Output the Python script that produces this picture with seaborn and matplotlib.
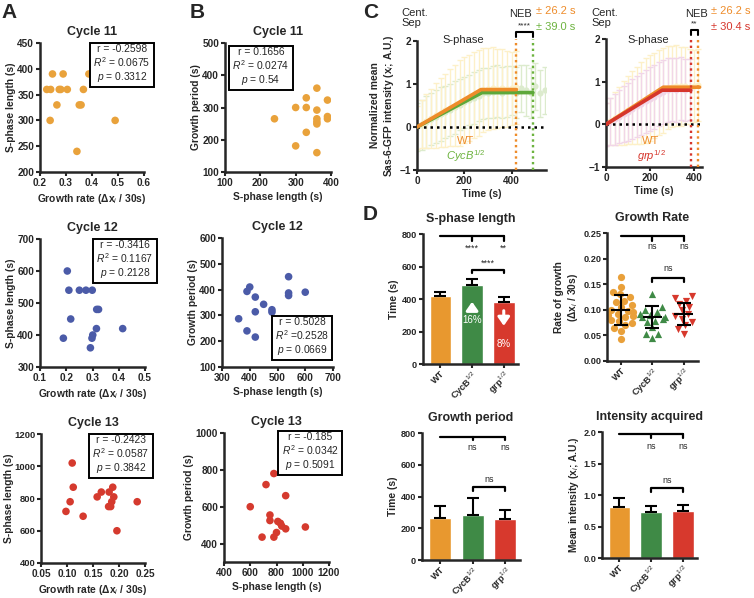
import matplotlib
matplotlib.use("Agg")
import matplotlib.pyplot as plt
import seaborn as sns
import numpy as np

sns.set_style("ticks")
plt.rcParams['font.family'] = ['Liberation Sans', 'DejaVu Sans']
plt.rcParams['mathtext.fontset'] = 'custom'
plt.rcParams['mathtext.rm'] = 'Liberation Sans'
plt.rcParams['mathtext.it'] = 'Liberation Sans:italic'
plt.rcParams['mathtext.bf'] = 'Liberation Sans:bold'
plt.rcParams['axes.labelweight'] = 'bold'

W, H = 754, 598

# ---------------- data ----------------
# A: growth rate vs S-phase length
c11_rate = [0.248, 0.289, 0.388, 0.226, 0.241, 0.274, 0.280, 0.305, 0.367, 0.265, 0.351, 0.358, 0.239, 0.489, 0.342]
c11_sphase = [390, 390, 390, 360, 360, 360, 360, 360, 360, 330, 330, 330, 300, 300, 240]
c12_rate = [0.204, 0.210, 0.250, 0.275, 0.299, 0.316, 0.323, 0.217, 0.315, 0.415, 0.301, 0.298, 0.189, 0.292]
c12_sphase = [600, 540, 540, 540, 540, 480, 480, 450, 420, 420, 400, 390, 390, 360]
c13_rate = [0.110, 0.112, 0.188, 0.166, 0.181, 0.158, 0.190, 0.106, 0.235, 0.186, 0.180, 0.184, 0.098, 0.131, 0.196]
c13_sphase = [1020, 870, 870, 840, 840, 810, 810, 780, 780, 780, 750, 750, 720, 690, 600]

# B: S-phase length vs growth period
b11_sphase = [360, 330, 390, 300, 330, 360, 240, 360, 360, 360, 390, 390, 330, 300, 360]
b11_growth = [360, 330, 323, 300, 300, 292, 265, 265, 256, 249, 272, 265, 223, 181, 160]
b12_sphase = [540, 540, 540, 600, 400, 390, 420, 450, 480, 480, 360, 420, 390, 420]
b12_growth = [450, 387, 377, 390, 410, 393, 371, 343, 322, 313, 287, 314, 240, 216]
b13_sphase = [780, 720, 870, 600, 750, 750, 810, 830, 840, 870, 1020, 800, 690, 780]
b13_growth = [780, 720, 660, 600, 555, 525, 520, 510, 495, 480, 490, 460, 435, 435]

stats_a = ["r = -0.2598\n$R^2$ = 0.0675\n$p$ = 0.3312",
           "r = -0.3416\n$R^2$ = 0.1167\n$p$ = 0.2128",
           "r = -0.2423\n$R^2$ = 0.0587\n$p$ = 0.3842"]
stats_b = ["r = 0.1656\n$R^2$ = 0.0274\n$p$ = 0.54",
           "r = 0.5028\n$R^2$ =0.2528\n$p$ = 0.0669",
           "r = -0.185\n$R^2$ = 0.0342\n$p$ = 0.5091"]

# C: normalised Sas-6-GFP intensity over time
wt_t = [0, 20, 40, 60, 80, 100, 120, 140, 160, 180, 200, 220, 240, 260, 280, 300, 320, 340, 360, 380, 400, 420]
wt_mean = [0.00, 0.07, 0.14, 0.20, 0.27, 0.33, 0.39, 0.45, 0.50, 0.56, 0.62, 0.68, 0.74, 0.80, 0.86, 0.88,
           0.90, 0.89, 0.91, 0.88, 0.90, 0.92]
wt_sd = [0.50, 0.55, 0.62, 0.68, 0.75, 0.80, 0.85, 0.90, 0.95, 1.00, 1.00, 1.00, 1.00, 1.00, 0.98, 0.95,
         0.95, 0.92, 0.90, 0.88, 0.85, 0.85]
cyc_t = [0, 20, 40, 60, 80, 100, 120, 140, 160, 180, 200, 220, 240, 260, 280, 300, 320, 340, 360, 380,
         400, 420, 440, 460, 480, 500, 520, 540]
cyc_mean = [0.00, 0.05, 0.12, 0.18, 0.24, 0.30, 0.35, 0.40, 0.46, 0.52, 0.57, 0.62, 0.68, 0.73, 0.78, 0.80,
            0.82, 0.84, 0.80, 0.83, 0.85, 0.80, 0.90, 0.85, 0.80, 0.95, 0.78, 0.85]
cyc_sd = [0.55, 0.58, 0.60, 0.60, 0.62, 0.62, 0.60, 0.60, 0.62, 0.60, 0.60, 0.58, 0.60, 0.60, 0.60, 0.58,
          0.60, 0.60, 0.60, 0.60, 0.58, 0.60, 0.55, 0.60, 0.58, 0.55, 0.55, 0.55]
grp_t = [0, 20, 40, 60, 80, 100, 120, 140, 160, 180, 200, 220, 240, 260, 280, 300, 320, 340, 360, 380]
grp_mean = [0.00, 0.06, 0.12, 0.18, 0.24, 0.30, 0.36, 0.42, 0.48, 0.54, 0.60, 0.65, 0.70, 0.75, 0.80, 0.82,
            0.80, 0.83, 0.80, 0.82]
grp_sd = [0.50, 0.55, 0.60, 0.62, 0.65, 0.68, 0.70, 0.72, 0.72, 0.74, 0.75, 0.75, 0.75, 0.75, 0.75, 0.74,
          0.75, 0.74, 0.72, 0.72]
fit_wt_l = ([0, 270, 420], [0, 0.87, 0.87])
fit_cyc = ([0, 275, 490], [0, 0.80, 0.80])
fit_wt_r = ([0, 260, 425], [0, 0.87, 0.87])
fit_grp = ([0, 255, 385], [0, 0.80, 0.80])
neb_wt, neb_cyc, neb_grp = 420, 490, 385

# D: bar / scatter summaries
groups = ["WT", "CycB$^{1/2}$", "grp$^{1/2}$"]
sphase_mean = [418, 485, 383]
sphase_sd = [27, 40, 30]
period_mean = [264, 281, 256]
period_sd = [79, 110, 62]
intens_mean = [0.805, 0.727, 0.743]
intens_sd = [0.15, 0.10, 0.10]
rate_wt = [0.165, 0.145, 0.135, 0.130, 0.125, 0.118, 0.115, 0.110, 0.105, 0.100, 0.098, 0.095, 0.092,
           0.090, 0.088, 0.085, 0.080, 0.078, 0.075, 0.070, 0.065, 0.058, 0.042]
rate_cyc = [0.131, 0.105, 0.100, 0.096, 0.091, 0.089, 0.086, 0.086, 0.083, 0.079, 0.076, 0.066, 0.053,
            0.052, 0.044]
rate_grp = [0.126, 0.124, 0.118, 0.112, 0.105, 0.099, 0.091, 0.087, 0.083, 0.076, 0.070, 0.063, 0.053]
rate_mean = [0.099, 0.0855, 0.092]
rate_sd = [0.029, 0.021, 0.021]

ORANGE = '#E9A23B'
BLUE = '#4B5BA8'
RED = '#D53A2E'
BAR_COLORS = ['#E8982F', '#3F8A46', '#D7392D']
LIGHT_WT = '#FDF0C8'
LIGHT_CYC = '#DCEBCD'
LIGHT_GRP = '#F1D6E8'
C_GREEN = '#6DB33F'

fig = plt.figure(figsize=(W / 100, H / 100), dpi=100)


def add_ax(l, t, r, b):
    return fig.add_axes([l / W, 1 - b / H, (r - l) / W, (b - t) / H])


def ftext(x, y, s, **kw):
    fig.text(x / W, 1 - y / H, s, **kw)


def style(ax, size=7.2):
    sns.despine(ax=ax)
    for s in ['left', 'bottom']:
        ax.spines[s].set_linewidth(1.8)
    ax.tick_params(width=1.5, length=3, labelsize=size, pad=1.2)
    for lab in ax.get_xticklabels() + ax.get_yticklabels():
        lab.set_fontweight('bold')


def scatter_panel(rect, xs, ys, color, title, xlabel, ylabel, xlim, xticks, ylim, yticks, stats, box_xy, xfmt=None):
    ax = add_ax(*rect)
    sns.scatterplot(x=xs, y=ys, color=color, s=30, edgecolor='none', ax=ax)
    ax.set_xlim(*xlim)
    ax.set_ylim(*ylim)
    ax.set_xticks(xticks)
    ax.set_yticks(yticks)
    if xfmt:
        ax.set_xticklabels([xfmt.format(v) for v in xticks])
    ax.set_title(title, fontsize=9, fontweight='bold', pad=6)
    ax.set_xlabel(xlabel, fontsize=7.4, labelpad=3)
    ax.set_ylabel(ylabel, fontsize=7.4, labelpad=1)
    style(ax)
    ftext(box_xy[0], box_xy[1], stats, ha='center', va='center', fontsize=7.4, multialignment='center',
          linespacing=1.12, bbox=dict(boxstyle='square,pad=0.32', fc='white', ec='black', lw=1.4))
    return ax


rate_lbl = "Growth rate (Δx$_i$ / 30s)"
# ---------- A ----------
scatter_panel((40, 43, 144, 172), c11_rate, c11_sphase, ORANGE, "Cycle 11", rate_lbl, "S-phase length (s)",
              (0.2, 0.6), [0.2, 0.3, 0.4, 0.5, 0.6], (200, 450), [200, 250, 300, 350, 400, 450],
              stats_a[0], (122, 64))
scatter_panel((40, 239, 145, 367), c12_rate, c12_sphase, BLUE, "Cycle 12", rate_lbl, "S-phase length (s)",
              (0.1, 0.5), [0.1, 0.2, 0.3, 0.4, 0.5], (300, 700), [300, 400, 500, 600, 700],
              stats_a[1], (125, 260))
ax13 = scatter_panel((41, 434, 145, 563), c13_rate, c13_sphase, RED, "Cycle 13", rate_lbl, "S-phase length (s)",
                     (0.05, 0.25), [0.05, 0.10, 0.15, 0.20, 0.25], (400, 1200), [400, 600, 800, 1000, 1200],
                     stats_a[2], (121, 455), xfmt="{:.2f}")
ax13.tick_params(axis='y', labelsize=6.8)
ax13.yaxis.set_label_coords(-0.26, 0.5)
# ---------- B ----------
scatter_panel((225, 43, 331, 172), b11_sphase, b11_growth, ORANGE, "Cycle 11", "S-phase length (s)",
              "Growth period (s)", (100, 400), [100, 200, 300, 400], (100, 500), [100, 200, 300, 400, 500],
              stats_b[0], (261, 67))
scatter_panel((222, 238, 333, 367), b12_sphase, b12_growth, BLUE, "Cycle 12", "S-phase length (s)",
              "Growth period (s)", (300, 700), [300, 400, 500, 600, 700], (100, 600),
              [100, 200, 300, 400, 500, 600], stats_b[1], (302, 337))
scatter_panel((224, 433, 329, 562), b13_sphase, b13_growth, RED, "Cycle 13", "S-phase length (s)",
              "Growth period (s)", (400, 1200), [400, 600, 800, 1000, 1200], (300, 1000),
              [400, 600, 800, 1000], stats_b[2], (310, 452))


# ---------- C ----------
def c_panel(rect, xmax, faint, fits, nebs, stars):
    ax = add_ax(*rect)
    for t, m, sd, c in faint:
        ax.errorbar(t, m, yerr=sd, fmt='o', ms=3.4, color=c, ecolor=c, elinewidth=1.0, capsize=2.2,
                    capthick=1.0, zorder=1)
    ax.axhline(0, color='black', ls=(0, (1, 1.6)), lw=1.8, zorder=2)
    for (fx, fy), c in fits:
        sns.lineplot(x=fx, y=fy, color=c, lw=2.6, ax=ax, zorder=3)
    for x, c in nebs:
        ax.plot([x, x], [-1, 2.05], color=c, ls=(0, (1, 1.4)), lw=1.7, clip_on=False, zorder=4)
    x0, x1 = sorted([nebs[0][0], nebs[1][0]])
    ax.plot([x0, x0, x1, x1], [2.1, 2.2, 2.2, 2.1], color='black', lw=1.5, clip_on=False)
    ax.text((x0 + x1) / 2, 2.27, stars, ha='center', va='bottom', fontsize=6)
    ax.set_xlim(0, xmax)
    ax.set_ylim(-1, 2)
    ax.set_xticks([0, 200, 400])
    ax.set_yticks([-1, 0, 1, 2])
    ax.set_xlabel("Time (s)", fontsize=7.4, labelpad=2)
    style(ax)
    return ax


axc1 = c_panel((417, 41, 546, 170), 545,
               [(cyc_t, cyc_mean, cyc_sd, LIGHT_CYC), (wt_t, wt_mean, wt_sd, LIGHT_WT)],
               [(fit_cyc, '#5DA83A'), (fit_wt_l, '#EE8C2A')],
               [(neb_wt, '#EE8C2A'), (neb_cyc, C_GREEN)], "****")
axc1.set_ylabel("Normalized mean\nSas-6-GFP intensity (x$_i$; A.U.)", fontsize=7.4, labelpad=3)
axc2 = c_panel((606, 39, 702, 167), 436,
               [(wt_t, wt_mean, wt_sd, LIGHT_WT), (grp_t, grp_mean, grp_sd, LIGHT_GRP)],
               [(fit_wt_r, '#EE8C2A'), (fit_grp, '#D6362C')],
               [(neb_grp, '#D6362C'), (neb_wt, '#EE8C2A')], "**")

for cx, sx, nx, px, col2, txt2, lab2 in [(401, 463, 521, 536, C_GREEN, "± 39.0 s", r"$\mathit{CycB}^{1/2}$"),
                                         (591, 648, 697, 711, '#D6362C', "± 30.4 s", r"$\mathit{grp}^{1/2}$")]:
    ftext(cx, 18, "Cent.\nSep", ha='left', va='center', fontsize=8, linespacing=1.1)
    ftext(sx, 40, "S-phase", ha='center', va='center', fontsize=8)
    ftext(nx, 14, "NEB", ha='center', va='center', fontsize=8)
    ftext(px, 11, "± 26.2 s", ha='left', va='center', fontsize=8, color='#EE8C2A')
    ftext(px, 27, txt2, ha='left', va='center', fontsize=8, color=col2)
    ftext(sx + 3, 141, "WT", ha='center', va='center', fontsize=8, color='#EE8C2A')
    ftext(sx + 3, 156, lab2, ha='center', va='center', fontsize=8, color=col2)


# ---------- D ----------
def d_common(ax, title, ylabel, ylim, yticks, yfmt=None):
    ax.set_xlim(-0.55, 2.45)
    ax.set_ylim(*ylim)
    ax.set_yticks(yticks)
    if yfmt:
        ax.set_yticklabels([yfmt.format(v) for v in yticks])
    ax.set_xticks(range(3))
    ax.set_xticklabels(groups, rotation=45, ha='right', rotation_mode='anchor')
    ax.set_title(title, fontsize=9, fontweight='bold', pad=9)
    ax.set_xlabel("")
    ax.set_ylabel(ylabel, fontsize=7.4, labelpad=2)
    style(ax, 6.6)
    ax.tick_params(axis='x', pad=0.5)


def brackets(ax, top, leg, lab_top, low, low_leg, lab_low, top_lab, low_lab):
    ax.plot([0, 2], [top, top], color='black', lw=1.6, clip_on=False)
    ax.plot([1, 1], [top, leg], color='black', lw=1.6)
    ax.plot([2, 2], [top, leg], color='black', lw=1.6)
    ax.text(1, lab_top, top_lab[0], ha='center', va='center', fontsize=6.5)
    ax.text(2, lab_top, top_lab[1], ha='center', va='center', fontsize=6.5)
    ax.plot([1, 1, 2, 2], [low_leg, low, low, low_leg], color='black', lw=1.6)
    ax.text(1.5, lab_low, low_lab, ha='center', va='center', fontsize=6.5)


def bar_panel(rect, means, sds, title, ylabel, ylim, yticks, yfmt=None):
    ax = add_ax(*rect)
    sns.barplot(x=groups, y=means, hue=groups, palette=BAR_COLORS, legend=False, width=0.68,
                saturation=1, errorbar=None, ax=ax)
    ax.errorbar(range(3), means, yerr=[[0, 0, 0], sds], fmt='none', ecolor='black', elinewidth=1.5,
                capsize=4.2, capthick=1.5, zorder=3)
    d_common(ax, title, ylabel, ylim, yticks, yfmt)
    return ax


ax1 = bar_panel((423, 234, 518, 364), sphase_mean, sphase_sd, "S-phase length", "Time (s)", (0, 800),
                [0, 200, 400, 600, 800])
brackets(ax1, 785, 755, 715, 578, 560, 618, ("****", "**"), "****")
ax1.annotate('', xy=(1, 400), xytext=(1, 318),
             arrowprops=dict(arrowstyle='-|>,head_width=0.35,head_length=0.5', color='white', lw=2.2))
ax1.text(1, 268, "16%", ha='center', va='center', color='white', fontsize=7)
ax1.annotate('', xy=(2, 218), xytext=(2, 345),
             arrowprops=dict(arrowstyle='-|>,head_width=0.35,head_length=0.5', color='white', lw=2.2))
ax1.text(2, 125, "8%", ha='center', va='center', color='white', fontsize=7)

ax2 = add_ax(607, 233, 698, 361)
for vals, g, c, m in [(rate_wt, groups[0], '#E9A03A', 'o'), (rate_cyc, groups[1], '#3F8A46', '^'),
                      (rate_grp, groups[2], '#D7392D', 'v')]:
    sns.swarmplot(x=[g] * len(vals), y=vals, order=groups, color=c, marker=m, size=5.2, ax=ax2, zorder=1)
ax2.errorbar(range(3), rate_mean, yerr=rate_sd, fmt='none', ecolor='black', elinewidth=1.5, capsize=5,
             capthick=1.5, zorder=4)
ax2.hlines(rate_mean, np.arange(3) - 0.3, np.arange(3) + 0.3, color='black', lw=1.5, zorder=4)
d_common(ax2, "Growth Rate", "Rate of growth\n(Δx$_i$ / 30s)", (0, 0.25), [0, 0.05, 0.10, 0.15, 0.20, 0.25],
         "{:.2f}")
ax2.set_xlim(-0.44, 2.45)
brackets(ax2, 0.245, 0.235, 0.224, 0.162, 0.154, 0.181, ("ns", "ns"), "ns")

ax3 = bar_panel((422, 433, 520, 560), period_mean, period_sd, "Growth period", "Time (s)", (0, 800),
                [0, 200, 400, 600, 800])
brackets(ax3, 777, 755, 707, 459, 437, 509, ("ns", "ns"), "ns")

ax4 = bar_panel((602, 432, 697, 558), intens_mean, intens_sd, "Intensity acquired",
                "Mean intensity (x$_i$; A.U.)", (0, 2.0), [0, 0.5, 1.0, 1.5, 2.0], "{:.1f}")
brackets(ax4, 1.97, 1.91, 1.77, 1.11, 1.04, 1.23, ("ns", "ns"), "ns")

# panel letters
for letter, x, y in [("A", 9, 13), ("B", 197, 13), ("C", 371, 13), ("D", 370, 214)]:
    ftext(x, y, letter, ha='center', va='center', fontsize=15, fontweight='bold')

fig.savefig("out.png", dpi=100)
